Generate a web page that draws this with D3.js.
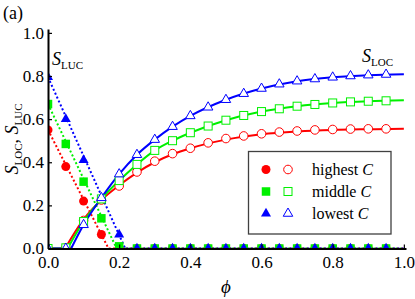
<!DOCTYPE html>
<html>
<head>
<meta charset="utf-8">
<script src="https://cdn.jsdelivr.net/npm/d3@7"></script>
<style>
  body { margin: 0; background: #fff; }
  text { font-family: "Liberation Serif", "DejaVu Serif", serif; fill: #000; }
</style>
</head>
<body>
<div id="chart"></div>
<script>
// ---- data ----
const series = ["highest", "middle", "lowest"];
const seriesColors = ["#ff0000", "#00f000", "#0000ff"];

// simulation points, phi = 0 .. 0.95 step 0.05
const simPhi = [0, 0.05, 0.1, 0.15, 0.2, 0.25, 0.3, 0.35, 0.4, 0.45, 0.5, 0.55, 0.6, 0.65, 0.7, 0.75, 0.8, 0.85, 0.9, 0.95];
const lucHighest = [0.55, 0.38, 0.22, 0.065, 0, 0, 0, 0, 0, 0, 0, 0, 0, 0, 0, 0, 0, 0, 0, 0];
const lucMiddle  = [0.67, 0.485, 0.31, 0.14, 0.01, 0, 0, 0, 0, 0, 0, 0, 0, 0, 0, 0, 0, 0, 0, 0];
const lucLowest  = [0.795, 0.60, 0.41, 0.23, 0.065, 0, 0, 0, 0, 0, 0, 0, 0, 0, 0, 0, 0, 0, 0, 0];
const locHighest = [0, 0.003, 0.13, 0.225, 0.29, 0.355, 0.405, 0.44, 0.465, 0.49, 0.51, 0.522, 0.532, 0.54, 0.545, 0.55, 0.552, 0.554, 0.555, 0.555];
const locMiddle  = [0, 0.003, 0.125, 0.23, 0.315, 0.39, 0.455, 0.5, 0.537, 0.568, 0.595, 0.617, 0.635, 0.648, 0.66, 0.668, 0.675, 0.68, 0.683, 0.685];
const locLowest  = [0, 0, 0.11, 0.235, 0.345, 0.435, 0.505, 0.565, 0.615, 0.655, 0.69, 0.718, 0.742, 0.762, 0.776, 0.786, 0.794, 0.8, 0.804, 0.807];

// theory lines
const lucLinePhi = [[0, 0.17, 1], [0, 0.193, 1], [0, 0.217, 1]];
const lucLineVal = [[0.55, 0, 0], [0.67, 0, 0], [0.795, 0, 0]];
const locKink = [0.048, 0.055, 0.065];
const locRisePhi = [0.1, 0.15, 0.2, 0.25, 0.3, 0.35, 0.4, 0.5, 0.6, 0.7, 0.8, 0.9, 1.0];
const locRiseHighest = [0.135, 0.225, 0.293, 0.352, 0.4, 0.437, 0.465, 0.505, 0.53, 0.543, 0.55, 0.553, 0.555];
const locRiseMiddle  = [0.125, 0.23, 0.315, 0.39, 0.455, 0.5, 0.537, 0.595, 0.635, 0.66, 0.675, 0.683, 0.687];
const locRiseLowest  = [0.11, 0.235, 0.345, 0.435, 0.505, 0.565, 0.615, 0.69, 0.742, 0.776, 0.794, 0.804, 0.808];

const xTicks = [0, 0.2, 0.4, 0.6, 0.8, 1.0];
const yTicks = [0, 0.2, 0.4, 0.6, 0.8, 1.0];

const lucSim = [lucHighest, lucMiddle, lucLowest];
const locSim = [locHighest, locMiddle, locLowest];
const locRise = [locRiseHighest, locRiseMiddle, locRiseLowest];

// ---- chart ----
const width = 415, height = 299;
const svg = d3.select("#chart").append("svg")
  .attr("width", width).attr("height", height);

const x = d3.scaleLinear().domain([0, 1.006]).range([48, 406]);
const y = d3.scaleLinear().domain([0, 1.018]).range([248.5, 29]);

svg.append("clipPath").attr("id", "plotclip")
  .append("rect")
  .attr("x", x(0)).attr("y", y(1.018))
  .attr("width", x(1.006) - x(0)).attr("height", y(0) - y(1.018));

const plot = svg.append("g").attr("clip-path", "url(#plotclip)");

// symbol generators
function marker(g, shape, cx, cy, color, filled) {
  if (shape === 0) {
    g.append("circle").attr("cx", cx).attr("cy", cy).attr("r", filled ? 4.5 : 4.3)
      .attr("fill", filled ? color : "#fff").attr("stroke", color)
      .attr("stroke-width", filled ? 0 : 1);
  } else if (shape === 1) {
    const s = filled ? 8.5 : 8;
    g.append("rect").attr("x", cx - s / 2).attr("y", cy - s / 2).attr("width", s).attr("height", s)
      .attr("fill", filled ? color : "#fff").attr("stroke", color)
      .attr("stroke-width", filled ? 0 : 1);
  } else {
    const r = filled ? 5.8 : 5.5;
    const pts = [[cx, cy - r], [cx + r * 0.866, cy + r * 0.5], [cx - r * 0.866, cy + r * 0.5]];
    g.append("path").attr("d", "M" + pts.join("L") + "Z")
      .attr("fill", filled ? color : "#fff").attr("stroke", color)
      .attr("stroke-width", filled ? 0 : 1);
  }
}

const lineLin = d3.line().x(d => x(d[0])).y(d => y(d[1]));
const lineSmooth = d3.line().x(d => x(d[0])).y(d => y(d[1])).curve(d3.curveMonotoneX);

// S_LUC dotted theory + filled markers
series.forEach((s, i) => {
  const pts = lucLinePhi[i].map((p, j) => [p, lucLineVal[i][j]]);
  plot.append("path").attr("d", lineLin(pts))
    .attr("fill", "none").attr("stroke", seriesColors[i])
    .attr("stroke-width", 2).attr("stroke-dasharray", "2,2.3");
});
series.forEach((s, i) => {
  simPhi.forEach((p, j) => marker(plot, i, x(p), y(lucSim[i][j]), seriesColors[i], true));
});

// S_LOC solid theory + open markers
series.forEach((s, i) => {
  const flat = [[0, 0], [locKink[i], 0]];
  const rise = [[locKink[i], 0]].concat(locRisePhi.map((p, j) => [p, locRise[i][j]]));
  plot.append("path").attr("d", lineLin(flat) + lineSmooth(rise).replace(/^M/, "L"))
    .attr("fill", "none").attr("stroke", seriesColors[i]).attr("stroke-width", 2);
});
series.forEach((s, i) => {
  simPhi.forEach((p, j) => marker(plot, i, x(p), y(locSim[i][j]), seriesColors[i], false));
});

// axes
const xAxis = d3.axisBottom(x).tickValues(xTicks).tickFormat(d3.format(".1f"))
  .tickSizeInner(-4).tickSizeOuter(0).tickPadding(7);
const gx = svg.append("g").attr("transform", `translate(0,${y(0)})`).call(xAxis);
const yAxis = d3.axisLeft(y).tickValues(yTicks).tickFormat(d3.format(".1f"))
  .tickSizeInner(-4).tickSizeOuter(0).tickPadding(4);
const gy = svg.append("g").attr("transform", `translate(${x(0)},0)`).call(yAxis);
[gx, gy].forEach(g => {
  g.select(".domain").attr("stroke", "#000").attr("stroke-width", 2);
  g.selectAll(".tick line").attr("stroke", "#000").attr("stroke-width", 1.2);
  g.selectAll(".tick text").style("font-family", "Liberation Serif, serif")
    .style("font-size", "17px").attr("fill", "#000");
});

// labels
svg.append("text").attr("x", 3).attr("y", 19).style("font-size", "18px").text("(a)");

svg.append("text").attr("x", (x(0) + x(1)) / 2).attr("y", 293)
  .attr("text-anchor", "middle").style("font-size", "19px").style("font-style", "italic").text("ϕ");

function sLabel(g, sub) {
  g.append("tspan").style("font-style", "italic").text("S");
  g.append("tspan").style("font-size", "11px").attr("dy", 4).text(sub);
}
const yl = svg.append("text").attr("transform", "translate(18,139) rotate(-90)")
  .attr("text-anchor", "middle").style("font-size", "18px");
yl.append("tspan").style("font-style", "italic").text("S");
yl.append("tspan").style("font-size", "11px").attr("dy", 3.5).text("LOC");
yl.append("tspan").attr("dy", -3.5).text(", ");
yl.append("tspan").style("font-style", "italic").text("S");
yl.append("tspan").style("font-size", "11px").attr("dy", 3.5).text("LUC");

const a1 = svg.append("text").attr("x", 52).attr("y", 65).style("font-size", "18px");
sLabel(a1, "LUC");
const a2 = svg.append("text").attr("x", 362).attr("y", 62).style("font-size", "18px");
sLabel(a2, "LOC");

// legend
const lg = svg.append("g");
lg.append("rect").attr("x", 248.5).attr("y", 151.5).attr("width", 142.5).attr("height", 82.5)
  .attr("fill", "#fff").attr("stroke", "#404040").attr("stroke-width", 1.3);
series.forEach((s, i) => {
  const ry = 169.5 + i * 22;
  marker(lg, i, 266, ry, seriesColors[i], true);
  marker(lg, i, 288, ry, seriesColors[i], false);
  const t = lg.append("text").attr("x", 312).attr("y", ry + 5.5).style("font-size", "16px");
  t.append("tspan").text(s + " ");
  t.append("tspan").style("font-style", "italic").text("C");
});
</script>
</body>
</html>
